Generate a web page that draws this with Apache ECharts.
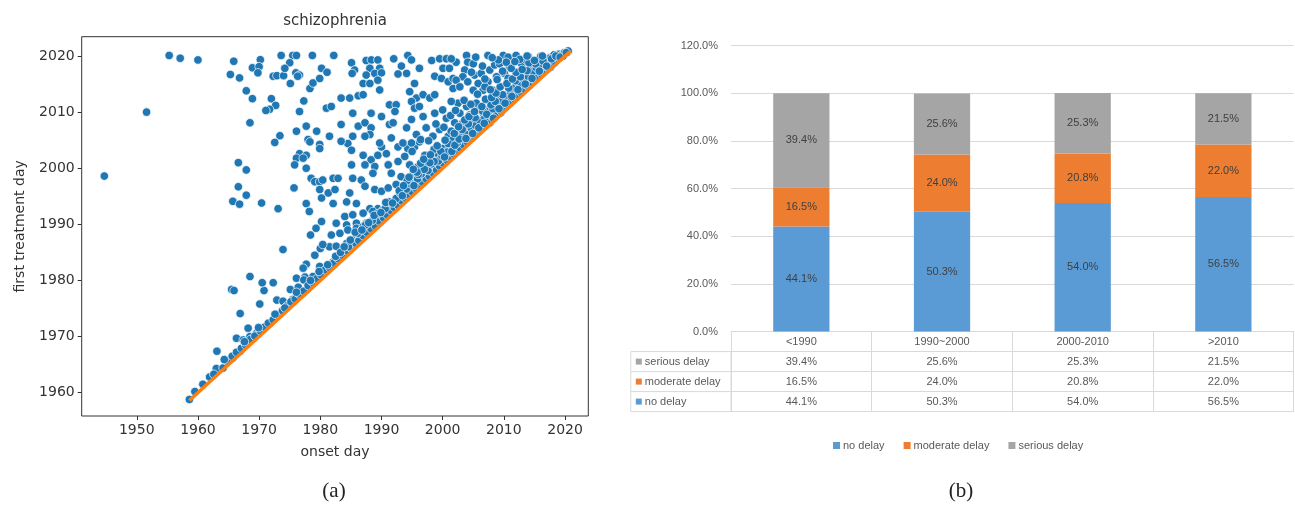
<!DOCTYPE html>
<html>
<head>
<meta charset="utf-8">
<script src="https://cdn.jsdelivr.net/npm/echarts@6/dist/echarts.min.js"></script>
<style>
html,body{margin:0;padding:0;background:#fff;}
#chart{width:1295px;height:506px;}
</style>
</head>
<body>
<div id="chart"></div>
<script>
// (a) onset year vs. year of first treatment, one point per patient
const patientPoints = [
  // early onsets, far from the diagonal
  [1944.7,1998.6],[1951.6,2010.0],[1955.3,2020.1],[1957.1,2019.6],[1960.0,2019.3],
  // onset 1965-1981, treated 2004-2021
  [1965.85,2019.06],[1965.3,2016.7],[1966.8,2016.1],[1968.9,2017.9],[1970.2,2019.35],[1970.0,2018.1],
  [1969.8,2017.0],[1967.9,2013.8],[1968.9,2012.4],[1972.0,2012.4],[1972.7,2011.2],[1971.7,2010.5],
  [1971.1,2010.3],[1968.5,2008.1],[1972.3,2016.4],[1972.9,2016.5],[1974.0,2016.5],[1973.6,2020.1],
  [1975.5,2020.1],[1976.1,2020.1],[1978.7,2020.1],[1975.0,2018.8],[1974.2,2017.8],[1976.0,2017.0],
  [1976.6,2016.6],[1976.3,2016.4],[1975.1,2015.1],[1978.3,2014.2],[1978.8,2015.2],[1980.2,2017.8],
  [1979.9,2016.0],[1981.1,2017.1],[1977.3,2012.0],[1976.6,2010.1],[1977.7,2007.5],[1976.1,2006.6],
  [1979.4,2006.6],[1973.4,2005.8],[1972.55,2004.6],[1978.0,2005.1],[1979.9,2004.25],
  // onset 1965-1981, treated 1980-2005
  [1978.3,2004.7],[1979.9,2003.5],[1976.6,2002.6],[1977.7,2002.3],[1976.1,2001.8],[1975.8,2000.6],
  [1977.2,2001.8],[1977.7,2000.0],[1978.5,1998.2],[1979.1,1997.6],[1979.9,1997.6],[1979.9,1996.2],
  [1980.2,1994.7],[1966.6,2001.0],[1967.9,1999.7],[1966.6,1996.7],[1967.9,1995.2],[1965.7,1994.1],
  [1966.8,1993.6],[1970.4,1993.8],[1973.1,1992.8],[1975.7,1996.5],[1977.7,1993.7],[1978.2,1992.3],
  [1980.2,1990.5],[1979.3,1989.3],[1978.4,1988.1],[1973.9,1985.5],[1980.0,1985.7],[1979.1,1984.5],
  [1977.7,1982.9],[1977.2,1982.2],[1979.9,1982.5],[1968.5,1980.7],[1976.1,1980.4],[1977.5,1980.6],
  [1978.8,1980.7],[1977.3,1980.1],[1983.4,1985.4],[1982.1,1983.3],[1983.2,1984.2],[1981.5,1986.0],
  // onset 1958-1978, treated within a few years
  [1958.6,1958.8],[1961.9,1962.8],[1963.0,1964.3],[1964.1,1964.4],[1963.1,1967.4],[1965.7,1966.2],
  [1966.9,1967.4],[1966.3,1969.7],[1967.4,1969.4],[1968.5,1970.0],[1969.6,1970.6],[1970.5,1971.5],
  [1968.2,1971.5],[1971.8,1972.4],[1973.2,1973.9],[1966.9,1974.1],[1970.1,1975.8],[1972.9,1976.5],
  [1973.9,1976.3],[1974.7,1975.5],[1975.5,1976.6],[1970.8,1978.2],[1965.5,1978.4],[1965.9,1978.2],
  [1975.1,1978.4],[1976.4,1978.8],[1976.9,1977.7],[1977.7,1978.3],[1970.5,1979.6],[1972.3,1979.6],
  // onset 1980-2001, treated 1986-2005
  [1984.5,2004.4],[1985.1,2003.2],[1987.0,2002.3],[1988.3,2001.5],[1989.4,2002.3],[1990.0,2003.8],
  [1990.8,2002.6],[1992.7,2003.8],[1994.3,2003.5],[1995.4,2003.8],[1996.2,2004.7],[1998.4,2002.9],
  [1999.2,2002.6],[2000.0,2003.5],[2000.9,2003.2],
  [1985.1,2000.6],[1987.3,2000.6],[1988.9,2000.3],[1991.1,2000.6],[1992.7,2001.2],[1994.6,2000.6],
  [1996.0,2000.3],[1997.3,2000.3],[1998.7,1999.7],
  [1980.4,1997.9],[1982.1,1998.2],[1982.9,1998.2],[1985.3,1998.2],[1986.7,1997.9],[1988.6,1999.1],
  [1991.6,1999.1],[1993.2,1998.5],[1995.2,1999.1],[1996.8,1998.5],[1997.9,1999.4],
  [1981.3,1995.6],[1982.4,1996.2],[1984.8,1995.6],[1987.3,1996.8],[1988.9,1996.2],[1990.0,1995.9],
  [1991.1,1996.5],[1992.4,1997.1],[1994.3,1996.8],[1995.7,1997.6],
  [1982.1,1993.7],[1984.3,1994.0],[1985.9,1993.7],[1988.1,1992.8],[1989.4,1992.8],[1991.1,1994.0],
  [1992.4,1994.6],[1993.5,1994.9],[1994.6,1995.5],
  [1984.0,1991.4],[1985.3,1991.7],[1987.0,1992.0],[1988.6,1992.3],[1990.2,1992.5],[1991.6,1993.1],
  [1992.7,1993.4],[1982.6,1990.2],[1984.3,1989.9],[1985.9,1990.2],[1987.5,1990.2],[1988.9,1990.8],
  [1990.0,1991.1],[1981.8,1988.1],[1983.2,1988.4],[1984.5,1989.0],[1985.9,1989.3],[1987.0,1989.6],
  [1980.4,1986.4],[1982.6,1986.1],[1984.3,1986.6],[1985.3,1987.3],[1986.4,1987.9],
  // onset 1980-2002, treated 2004-2021
  [1982.2,2020.1],[1985.1,2018.8],[1985.6,2017.5],[1985.2,2016.9],[1987.5,2019.2],[1988.35,2019.3],
  [1989.4,2019.3],[1988.1,2017.8],[1989.7,2017.8],[1987.5,2016.6],[1988.9,2016.9],[1990.0,2017.0],
  [1987.0,2015.1],[1988.1,2015.1],[1989.4,2015.7],[1989.7,2013.95],[1992.0,2019.5],[1994.3,2020.1],
  [1994.9,2019.3],[1993.25,2018.2],[1994.1,2016.9],[1992.7,2016.8],[1996.2,2017.8],[1995.4,2015.1],
  [1994.6,2013.65],[1995.7,2012.5],[1996.8,2013.1],[1997.9,2012.5],[1998.7,2013.1],[1998.2,2019.2],
  [1999.5,2019.5],[2000.6,2019.5],[2000.05,2017.8],[2001.1,2017.8],[1998.7,2016.4],[1999.8,2016.0],
  [2000.9,2015.4],[2001.7,2016.0],
  [1983.4,2012.5],[1984.8,2012.5],[1986.2,2012.9],[1987.0,2013.1],[1981.0,2010.7],[1981.8,2011.0],
  [1985.3,2009.8],[1988.3,2009.8],[1990.0,2009.2],[1991.3,2011.3],[1992.4,2011.3],[1992.2,2010.1],
  [1994.9,2011.9],[1995.4,2010.7],[1996.2,2011.0],[1996.8,2009.2],[1994.9,2008.7],[1998.7,2009.8],
  [2000.0,2010.4],[2000.6,2008.9],[1983.4,2007.8],[1986.2,2007.5],[1987.3,2008.1],[1988.3,2007.2],
  [1988.1,2006.0],[1991.3,2007.8],[1991.9,2008.1],[1994.1,2007.2],[1995.7,2006.0],[1997.3,2007.2],
  [1998.4,2005.7],[1999.5,2006.9],[2000.9,2005.7],[1981.5,2005.7],[1983.4,2004.8],[1985.3,2005.7],
  [1987.3,2005.7],[1989.7,2004.5],[1991.6,2005.4],[1993.5,2004.5],[1994.9,2004.5],
  // onset 2001-2021
  [2003.9,2020.1],[2004.1,2018.9],[2005.0,2018.6],[2002.2,2018.9],[2001.4,2019.5],[2003.6,2017.5],
  [2003.3,2016.3],[2002.2,2015.7],[2001.7,2014.2],[2002.8,2014.5],[2004.1,2015.4],[2005.2,2016.6],
  [2006.3,2016.9],[2005.8,2015.1],[2005.0,2013.9],[2006.6,2013.9],[2007.4,2015.4],[2007.7,2017.5],
  [2007.4,2020.1],[2009.9,2020.1],[2010.7,2019.8],[2008.5,2018.4],[2009.3,2018.6],[2010.9,2018.1],
  [2010.1,2016.9],[2008.8,2016.3],[2010.7,2016.0],[2012.0,2016.9],[2012.9,2018.6],[2013.7,2019.2],
  [2014.5,2018.1],[2015.6,2018.4],[2016.7,2018.9],[2017.5,2018.9],[2018.6,2019.5],[2019.7,2020.0],
  [2020.5,2020.7],[2012.3,2015.1],[2013.4,2016.3],[2014.8,2016.6],[2015.4,2016.9],[2016.9,2017.5],
  [2017.6,2018.0],[2018.3,2018.8],[2011.2,2013.9],[2008.2,2013.9],[2009.0,2013.1],[2009.9,2012.8],
  [2011.0,2012.5],[2012.0,2013.1],[2013.1,2013.9],[2014.2,2014.8],[2007.1,2012.2],[2005.5,2011.6],
  [2003.9,2011.0],[2002.5,2011.6],[2001.4,2011.9],[2002.8,2009.8],[2004.4,2009.5],[2006.0,2010.4],
  [2007.7,2010.7],[2009.3,2011.0],[2011.0,2011.6],[2011.6,2012.2],[2001.96,2008.1],[2003.3,2008.1],
  [2005.0,2008.7],[2006.6,2009.0],[2008.5,2009.2],[2009.5,2009.9],[2001.4,2006.6],[2002.8,2006.3],
  [2004.4,2006.9],[2006.0,2007.5],[2007.7,2008.1],[2003.3,2004.8],[2001.7,2005.1],
  [2012.0,2020.1],[2014.0,2019.9],[2016.0,2019.9],[2017.6,2019.8],[2019.0,2020.3],
  // treated shortly after onset (dense band above the diagonal)
  [1959.5,1960.2],[1960.8,1961.5],[1962.6,1963.3],[1964.8,1965.6],[1965.6,1966.5],[1966.3,1967.2],
  [1967.1,1967.9],[1967.8,1968.5],[1968.6,1969.5],[1969.3,1970.1],[1970.2,1971.0],[1970.9,1971.7],
  [1971.5,1972.4],[1972.3,1973.0],[1973.0,1973.9],[1973.8,1974.6],[1974.6,1975.5],[1975.2,1976.2],
  [1975.9,1976.7],[1976.5,1977.6],[1977.3,1978.1],[1978.0,1979.1],[1978.8,1979.6],[1979.4,1980.3],
  [1980.1,1981.0],[1980.8,1981.9],[1981.5,1982.3],[1982.2,1983.1],[1982.9,1983.9],[1983.6,1984.5],
  [1984.3,1985.3],[1985.0,1985.8],[1985.6,1986.7],[1986.3,1987.1],[1987.0,1988.0],[1987.6,1988.6],
  [1988.3,1989.2],[1989.0,1989.7],[1989.6,1990.6],[1990.3,1991.2],[1990.9,1991.7],[1991.5,1992.5],
  [1992.1,1993.0],[1992.7,1993.4],[1993.3,1994.2],[1993.9,1994.7],[1994.4,1995.3],[1995.0,1995.8],
  [1995.6,1996.4],[1996.1,1997.0],[1996.7,1997.5],[1997.3,1998.1],[1997.8,1998.6],[1998.4,1999.2],
  [1999.0,1999.7],[1999.5,2000.4],[2000.1,2000.9],[2000.7,2001.4],[2001.2,2002.0],[2001.8,2002.5],
  [2002.3,2003.1],[2002.9,2003.6],[2003.4,2004.2],[2004.0,2004.7],[2004.5,2005.3],[2005.1,2005.8],
  [2005.6,2006.4],[2006.2,2006.9],[2006.7,2007.5],[2007.3,2008.0],[2007.8,2008.6],[2008.4,2009.1],
  [2008.9,2009.7],[2009.5,2010.2],[2010.0,2010.8],[2010.6,2011.3],[2011.1,2011.9],[2011.7,2012.4],
  [2012.2,2013.0],[2012.8,2013.5],[2013.3,2014.1],[2013.9,2014.6],[2014.4,2015.2],[2015.0,2015.7],
  [2015.5,2016.3],[2016.1,2016.8],[2016.6,2017.4],[2017.2,2017.9],[2017.7,2018.5],[2018.3,2019.0],
  [2018.8,2019.6],[2019.4,2020.1],[2019.9,2020.6],[2020.5,2020.9],
  [1964.3,1965.9],[1967.6,1969.1],[1969.9,1971.6],[1972.6,1974.0],[1974.2,1975.1],[1976.1,1977.9],
  [1978.4,1980.0],[1979.8,1981.6],[1981.2,1982.8],[1982.5,1984.3],[1983.3,1985.0],[1984.6,1986.0],
  [1984.9,1987.2],[1986.1,1988.4],[1987.4,1989.9],[1988.5,1990.7],[1989.4,1991.9],[1990.6,1992.8],
  [1991.3,1994.0],[1992.4,1994.6],[1993.0,1995.6],[1994.1,1996.3],[1994.8,1997.2],[1995.9,1998.1],
  [1996.5,1999.0],[1997.6,1999.6],[1998.2,2000.8],[1999.3,2001.3],[1999.9,2002.2],[2000.8,2002.9],
  [2001.6,2003.8],[2002.4,2004.5],[2003.1,2005.6],[2003.9,2006.0],[2004.7,2007.1],[2005.4,2007.6],
  [2006.1,2008.5],[2006.9,2009.0],[2007.5,2010.1],[2008.2,2010.6],[2009.0,2011.5],[2009.7,2012.0],
  [2010.3,2013.0],[2011.1,2013.6],[2011.8,2014.4],[2012.5,2015.0],[2013.2,2015.9],[2014.0,2016.3],
  [2014.7,2017.2],[2015.3,2017.9],[2016.0,2018.4],[2016.8,2019.2],[2017.5,2019.6],[2018.2,2020.2],
  [1983.9,1986.0],[1985.7,1988.6],[1986.8,1989.0],[1987.9,1990.3],[1988.8,1991.6],[1989.9,1992.1],
  [1990.7,1993.9],[1991.8,1993.8],[1992.9,1996.0],[1993.4,1995.1],[1994.2,1997.8],[1995.3,1996.9],
  [1996.0,1998.9],[1997.0,1999.8],[1998.6,2001.2],
  [1993.6,1996.9],[1994.5,1998.4],[1995.8,1999.3],[1996.4,2000.9],[1997.1,2002.3],[1997.9,2001.0],
  [1998.6,2003.4],[1999.7,2003.0],[2000.3,2002.0],[2000.9,2004.4],[2001.5,2003.0],[2002.0,2004.1],
  [2002.7,2005.2],[2003.2,2006.9],[2003.8,2005.3],[2004.2,2007.9],[2004.9,2006.2],[2005.3,2009.0],
  [2005.9,2007.2],[2006.5,2010.2],[2006.8,2008.0],[2007.2,2009.6],[2007.9,2011.3],[2008.3,2008.9],
  [2008.6,2011.9],[2009.2,2010.6],[2009.8,2013.1],[2010.2,2011.6],[2010.8,2014.3],[2011.3,2012.8],
  [2011.9,2015.6],[2012.3,2014.0],[2012.7,2016.3],[2013.5,2015.0],[2013.8,2017.4],[2014.6,2016.0],
  [2015.2,2018.6],[2015.8,2017.3],[2016.4,2019.1],[2017.0,2018.2],[2017.8,2019.5],[2018.5,2020.0],
  [2019.2,2019.8],[2020.2,2020.6],
  // moderate delays, onset 1993-2016
  [1995.2,1999.8],[1996.9,2001.6],[1998.0,2002.4],[1999.1,2004.0],[2000.4,2005.0],[2001.9,2006.2],
  [2002.6,2007.4],[2003.6,2008.6],[2004.3,2009.2],[2005.2,2010.1],[2006.4,2011.0],[2007.0,2012.3],
  [2008.0,2012.6],[2008.7,2013.4],[2009.4,2014.5],[2010.5,2015.1],[2011.4,2015.9],[2012.0,2017.1],
  [2013.0,2017.6],[2014.1,2018.8],[2015.0,2019.2],[2016.3,2020.0],
  [1993.8,2002.1],[1995.0,2003.0],[1996.4,2005.1],[1997.7,2004.9],[1998.9,2007.9],[2000.2,2007.3],
  [2001.3,2009.4],[2002.1,2010.3],[2003.5,2012.1],[2004.6,2011.4],[2005.7,2013.2],[2006.9,2014.5],
  [2007.8,2014.0],[2008.9,2015.8],[2009.8,2017.3],[2011.2,2017.8],[2012.6,2019.4],[2013.8,2020.0],
  [2010.4,2018.9],[2009.1,2019.3],[2011.8,2019.0],[2008.1,2019.7],[2006.5,2018.2],[2005.4,2019.8],
  [2004.7,2017.1],[2006.9,2015.9]
];

// reference line "treatment year = onset year", spanning the onset range
const diagonalSpan = [1958.6, 2020.9];

const onsetTicks = [1950, 1960, 1970, 1980, 1990, 2000, 2010, 2020];
const treatmentTicks = [1960, 1970, 1980, 1990, 2000, 2010, 2020];

// (b) share of delay groups per onset period (%)
const periods = ['<1990', '1990~2000', '2000-2010', '>2010'];
const noDelay = [44.1, 50.3, 54.0, 56.5];
const moderateDelay = [16.5, 24.0, 20.8, 22.0];
const seriousDelay = [39.4, 25.6, 25.3, 21.5];

const groupNames = ['no delay', 'moderate delay', 'serious delay'];
const groupColors = ['#5b9bd5', '#ed7d31', '#a5a5a5'];

// ---- layout ----
const scatterBox = { left: 81.7, top: 36.7, right: 588.3, bottom: 416 };
const barBox = { left: 731, top: 45.7, right: 1293.7, bottom: 331.6 };
const rowH = 20;
const rowHeaderLeft = 630.8;

const axisInk = '#333333';
const sansMpl = 'DejaVu Sans';
const sansXl = 'Liberation Sans, Arial, sans-serif';
const greyText = '#595959';
const gridGrey = '#d9d9d9';

const pct = v => v.toFixed(1) + '%';
const year = v => String(Math.round(v));

// table rows under the bars: serious, moderate, no delay (top to bottom)
const tableRows = [
  { name: 'serious delay', values: seriousDelay, color: groupColors[2] },
  { name: 'moderate delay', values: moderateDelay, color: groupColors[1] },
  { name: 'no delay', values: noDelay, color: groupColors[0] }
];

const xAxes = [
  {
    type: 'value', gridIndex: 0,
    min: 1941.0, max: 2023.8,
    axisLine: { show: false },
    splitLine: { show: false },
    axisTick: { show: true, customValues: onsetTicks, length: 4, lineStyle: { color: axisInk, width: 1 } },
    axisLabel: { customValues: onsetTicks, formatter: year, fontFamily: sansMpl, fontSize: 14, color: axisInk, margin: 7 },
    name: 'onset day', nameLocation: 'middle', nameGap: 29,
    nameTextStyle: { fontFamily: sansMpl, fontSize: 14, color: axisInk }
  },
  // header row of the data table = category axis of the bars
  {
    type: 'category', gridIndex: 1, data: periods, position: 'bottom', offset: 0,
    axisLine: { show: true, lineStyle: { color: gridGrey, width: 1 } },
    axisTick: { show: true, length: rowH, lineStyle: { color: gridGrey } },
    axisLabel: { interval: 0, margin: 5, fontFamily: sansXl, fontSize: 11, color: greyText }
  }
];
tableRows.forEach((row, i) => {
  xAxes.push({
    type: 'category', gridIndex: 1, data: periods, position: 'bottom', offset: rowH * (i + 1),
    axisLine: { show: true, lineStyle: { color: gridGrey, width: 1 } },
    axisTick: { show: true, length: rowH, lineStyle: { color: gridGrey } },
    axisLabel: {
      interval: 0, margin: 5, fontFamily: sansXl, fontSize: 11, color: greyText,
      formatter: (v, idx) => pct(row.values[idx])
    }
  });
});
// closing line of the table
xAxes.push({
  type: 'category', gridIndex: 1, data: periods, position: 'bottom', offset: rowH * 4,
  axisLine: { show: true, lineStyle: { color: gridGrey, width: 1 } },
  axisTick: { show: false }, axisLabel: { show: false }
});

const yAxes = [
  {
    type: 'value', gridIndex: 0,
    min: 1955.85, max: 2023.44,
    axisLine: { show: false },
    splitLine: { show: false },
    axisTick: { show: true, customValues: treatmentTicks, length: 4, lineStyle: { color: axisInk, width: 1 } },
    axisLabel: { customValues: treatmentTicks, formatter: year, fontFamily: sansMpl, fontSize: 14, color: axisInk, margin: 7 },
    name: 'first treatment day', nameLocation: 'middle', nameGap: 54, nameRotate: 90,
    nameTextStyle: { fontFamily: sansMpl, fontSize: 14, color: axisInk }
  },
  {
    type: 'value', gridIndex: 1, min: 0, max: 120, interval: 20,
    axisLine: { show: false }, axisTick: { show: false },
    splitLine: { show: true, lineStyle: { color: gridGrey, width: 1 } },
    axisLabel: { formatter: v => pct(v), fontFamily: sansXl, fontSize: 11, color: greyText, margin: 13 }
  }
];

const barSeries = [noDelay, moderateDelay, seriousDelay].map((vals, i) => ({
  name: groupNames[i],
  type: 'bar',
  xAxisIndex: 1, yAxisIndex: 1,
  stack: 'share',
  barWidth: '40%',
  data: vals,
  itemStyle: { color: groupColors[i] },
  label: {
    show: true, position: 'inside',
    formatter: p => pct(p.value),
    fontFamily: sansXl, fontSize: 11, color: '#404040'
  }
}));

// row-header column of the table (left of the plot area)
const tableTop = barBox.bottom + rowH;
const tableBottom = barBox.bottom + rowH * 4;
const headerGraphics = [
  {
    type: 'rect', silent: true,
    shape: { x: rowHeaderLeft, y: tableTop, width: barBox.left - rowHeaderLeft, height: tableBottom - tableTop },
    style: { fill: 'none', stroke: gridGrey, lineWidth: 1 }
  },
  { type: 'line', silent: true, shape: { x1: rowHeaderLeft, y1: tableTop + rowH, x2: barBox.left, y2: tableTop + rowH }, style: { stroke: gridGrey, lineWidth: 1 } },
  { type: 'line', silent: true, shape: { x1: rowHeaderLeft, y1: tableTop + 2 * rowH, x2: barBox.left, y2: tableTop + 2 * rowH }, style: { stroke: gridGrey, lineWidth: 1 } }
];
tableRows.forEach((row, i) => {
  const cy = tableTop + rowH * i + rowH / 2;
  headerGraphics.push({
    type: 'rect', silent: true,
    shape: { x: rowHeaderLeft + 5, y: cy - 3, width: 6, height: 6 },
    style: { fill: row.color }
  });
  headerGraphics.push({
    type: 'text', silent: true, x: rowHeaderLeft + 14, y: cy,
    style: { text: row.name, fill: greyText, font: '11px ' + sansXl, align: 'left', verticalAlign: 'middle' }
  });
});

const chart = echarts.init(document.getElementById('chart'), null, { renderer: 'canvas' });
chart.setOption({
  animation: false,
  backgroundColor: '#ffffff',
  grid: [
    {
      left: scatterBox.left, top: scatterBox.top,
      width: scatterBox.right - scatterBox.left, height: scatterBox.bottom - scatterBox.top,
      show: true, borderColor: axisInk, borderWidth: 1, backgroundColor: 'transparent',
      outerBoundsMode: 'none'
    },
    {
      left: barBox.left, top: barBox.top,
      width: barBox.right - barBox.left, height: barBox.bottom - barBox.top,
      outerBoundsMode: 'none'
    }
  ],
  xAxis: xAxes,
  yAxis: yAxes,
  legend: {
    data: groupNames,
    left: 828, top: 435,
    icon: 'rect', itemWidth: 7, itemHeight: 7, itemGap: 19,
    selectedMode: false,
    textStyle: { fontFamily: sansXl, fontSize: 11, color: greyText, padding: [0, 0, 0, -2] }
  },
  series: [
    {
      type: 'scatter', xAxisIndex: 0, yAxisIndex: 0,
      data: patientPoints,
      symbolSize: 8.5,
      itemStyle: { color: '#1f77b4', borderColor: '#ffffff', borderWidth: 0.7, opacity: 1 },
      z: 2
    },
    {
      type: 'line', xAxisIndex: 0, yAxisIndex: 0,
      data: [[diagonalSpan[0], diagonalSpan[0]], [diagonalSpan[1], diagonalSpan[1]]],
      symbol: 'none',
      lineStyle: { color: '#ff7f0e', width: 3.5 },
      z: 3
    }
  ].concat(barSeries),
  graphic: [
    {
      type: 'text', silent: true,
      x: (scatterBox.left + scatterBox.right) / 2, y: 21,
      style: { text: 'schizophrenia', font: '15px ' + sansMpl, fill: axisInk, align: 'center', verticalAlign: 'middle' }
    },
    {
      type: 'text', silent: true, x: 334, y: 491,
      style: { text: '(a)', font: '21px "Liberation Serif", "DejaVu Serif", serif', fill: '#222', align: 'center', verticalAlign: 'middle' }
    },
    {
      type: 'text', silent: true, x: 961, y: 491,
      style: { text: '(b)', font: '21px "Liberation Serif", "DejaVu Serif", serif', fill: '#222', align: 'center', verticalAlign: 'middle' }
    }
  ].concat(headerGraphics)
});
</script>
</body>
</html>
